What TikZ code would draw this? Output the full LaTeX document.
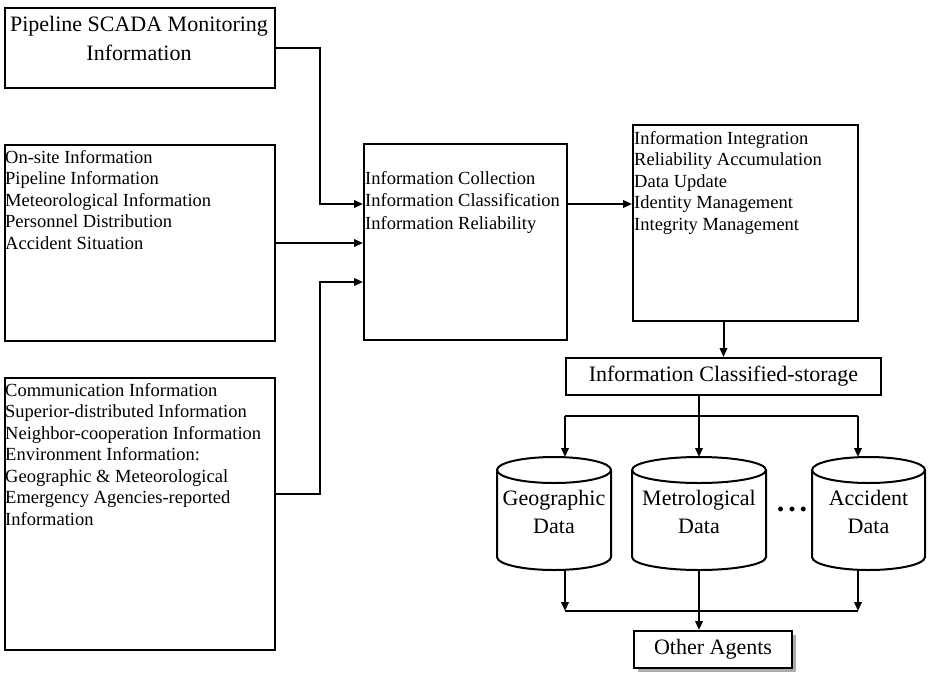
\documentclass[tikz,border=0pt]{standalone}
\usepackage{fontspec}
\setmainfont{Liberation Serif}
\usetikzlibrary{arrows.meta,shadows}

\begin{document}
\begin{tikzpicture}[x=1pt,y=-1pt]
\tikzset{
  box/.style={draw, line width=2pt, inner sep=0pt, fill=white, anchor=north west},
  ln/.style={line width=2pt},
  conn/.style={line width=2pt, -{Triangle[length=9pt,width=7.5pt]}},
  smalltxt/.style={font=\fontsize{18.5}{21.5}\selectfont, align=left, inner sep=0pt, anchor=north west},
  bigtxt/.style={font=\fontsize{22}{28}\selectfont, align=center, inner sep=0pt},
}
\useasboundingbox (0,0) rectangle (928,672);

% input boxes on the left
\node[box, minimum width=270pt, minimum height=80pt] (scada) at (4,7) {};
\node[bigtxt, font=\fontsize{22}{29}\selectfont, anchor=north] (scadatxt) at (139,16)
  {Pipeline SCADA Monitoring\\Information};

\node[box, minimum width=270pt, minimum height=196pt] (onsite) at (4,144) {};
\node[smalltxt] (onsitetxt) at (5,150)
  {On-site Information\\Pipeline Information\\Meteorological Information\\Personnel Distribution\\Accident Situation};

\node[box, minimum width=270pt, minimum height=272pt] (comm) at (4,377) {};
\node[smalltxt] (commtxt) at (5,383)
  {Communication Information\\Superior-distributed Information\\Neighbor-cooperation Information\\Environment Information:\\Geographic \& Meteorological\\Emergency Agencies-reported\\Information};

% processing boxes
\node[box, minimum width=203pt, minimum height=196pt] (proc) at (363,143) {};
\node[smalltxt, font=\fontsize{18.5}{22.5}\selectfont] (proctxt) at (365,171)
  {Information Collection\\Information Classification\\Information Reliability};

\node[box, minimum width=225pt, minimum height=196pt] (integ) at (632,124) {};
\node[smalltxt] (integtxt) at (634,131)
  {Information Integration\\Reliability Accumulation\\Data Update\\Identity Management\\Integrity Management};

\node[box, minimum width=315pt, minimum height=37pt, font=\fontsize{22}{26}\selectfont] (store) at (565,357)
  {Information Classified-storage};

% storage cylinders
\foreach \cx/\rx in {554/57, 699/67, 868.5/56.5}{
  \draw[ln, fill=white] ({\cx-\rx},470) -- ++(0,87)
    arc[start angle=180, end angle=360, x radius=\rx pt, y radius=13pt]
    -- ++(0,-87)
    arc[start angle=0, end angle=180, x radius=\rx pt, y radius=13pt] -- cycle;
  \draw[ln] ({\cx-\rx},470)
    arc[start angle=180, end angle=360, x radius=\rx pt, y radius=13pt];
}
\node[bigtxt, anchor=north] (geo) at (554,490) {Geographic\\Data};
\node[bigtxt, anchor=north] (met) at (699,490) {Metrological\\Data};
\node[bigtxt, anchor=north] (acc) at (868.5,490) {Accident\\Data};
\node[font=\fontsize{30}{32}\selectfont\bfseries, inner sep=0pt, anchor=base] (dots) at (792,511)
  {.\hspace{4pt}.\hspace{4pt}.};

\node[box, minimum width=158pt, minimum height=37pt, font=\fontsize{22}{26}\selectfont,
      drop shadow={shadow xshift=4pt, shadow yshift=-4pt, fill=gray!65, opacity=1}] (agents) at (633,630)
  {Other Agents};

% connector points
\coordinate (o1) at ([yshift=38pt]proc.east);
\coordinate (split) at (699,416);
\coordinate (sl) at (565,416);
\coordinate (sr) at (858,416);
\coordinate (geotop) at (565,457);
\coordinate (mettop) at (699,457);
\coordinate (acctop) at (858,457);
\coordinate (geobot) at (565,570);
\coordinate (metbot) at (699,570);
\coordinate (accbot) at (858,570);
\coordinate (jl) at (565,611);
\coordinate (jr) at (858,611);

% connectors into the collection box
\draw[conn] (scada.east) -- ++(44,0) |- ([yshift=38pt]proc.west);
\draw[conn] (onsite.east) -- (onsite.east -| proc.west);
\draw[conn] ([yshift=20pt]comm.east) -- ++(44,0) |- ([yshift=-40pt]proc.west);

% collection -> integration -> storage
\draw[conn] (o1) -- (o1 -| integ.west);
\draw[conn] (integ.south -| store.north) -- (store.north);

% storage -> cylinders
\draw[ln] (store.south -| split) -- (split);
\draw[ln] (sl) -- (sr);
\draw[conn] (sl) -- (geotop);
\draw[conn] (split) -- (mettop);
\draw[conn] (sr) -- (acctop);

% cylinders -> other agents
\draw[conn] (geobot) -- (jl);
\draw[conn] (accbot) -- (jr);
\draw[ln] (jl) -- (jr);
\draw[conn] (metbot) -- (metbot |- agents.north);
\end{tikzpicture}
\end{document}
